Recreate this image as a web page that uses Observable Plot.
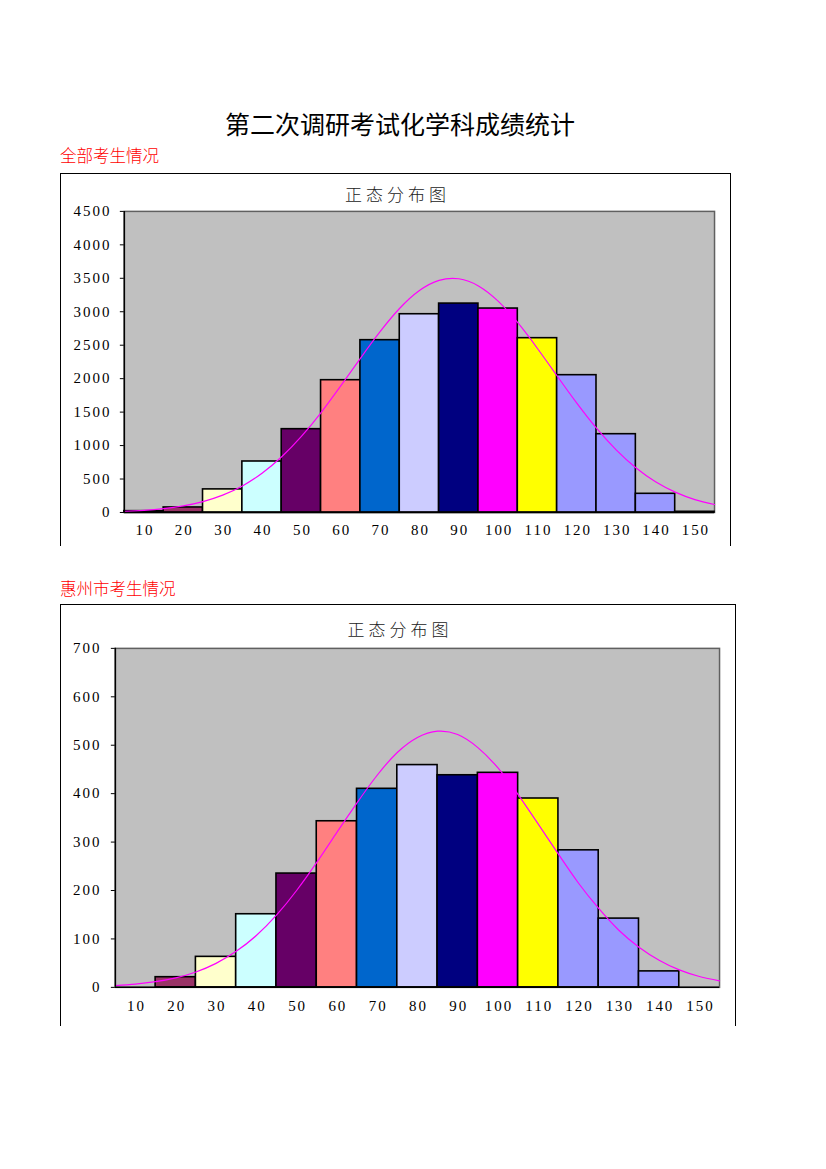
<!DOCTYPE html>
<html><head><meta charset="utf-8">
<script src="https://cdn.jsdelivr.net/npm/d3@7"></script>
<script src="https://cdn.jsdelivr.net/npm/@observablehq/plot@0.6"></script>
<style>
body{margin:0;background:#fff;}
#page{position:relative;width:826px;height:1169px;overflow:hidden;}
.title{position:absolute;left:0;width:800px;text-align:center;top:105px;font:25px "Noto Sans CJK SC";color:#000;}
.sub{position:absolute;left:60px;font:300 16.5px "Noto Sans CJK SC";color:#FF0000;}
.box{position:absolute;border:1px solid #000;border-bottom:none;box-sizing:border-box;}
.ctitle{position:absolute;left:4px;right:0;text-align:center;font:300 17px "Noto Sans CJK SC";letter-spacing:4px;color:#222;}
.box svg{position:absolute;left:0;top:0;}
.box svg text{letter-spacing:2px;}
</style></head>
<body><div id="page">
<div class="title">第二次调研考试化学科成绩统计</div>
<div class="sub" style="top:143px">全部考生情况</div>
<div class="box" id="b1" style="left:60px;top:173px;width:671px;height:373px"><div class="ctitle" style="top:7px">正态分布图</div></div>
<div class="sub" style="top:576px">惠州市考生情况</div>
<div class="box" id="b2" style="left:60px;top:604px;width:676px;height:422px"><div class="ctitle" style="top:11px">正态分布图</div></div>
</div>
<script>
const scores = [10,20,30,40,50,60,70,80,90,100,110,120,130,140,150];
const colors = ["#9999FF","#993366","#FFFFCC","#CCFFFF","#660066","#FF8080","#0066CC","#CCCCFF","#000080","#FF00FF","#FFFF00","#9999FF","#9999FF","#9999FF","#9999FF"];
const countsAll = [20,75,345,762,1245,1977,2575,2963,3122,3048,2605,2052,1170,279,10];
const countsHZ = [0,21,63,151,235,343,410,459,438,443,390,283,142,33,0];
const curveX = [5,10,15,20,25,30,35,40,45,50,55,60,65,70,75,80,85,90,95,100,105,110,115,120,125,130,135,140,145,150,155];
const curveAll = [17,32,57,99,163,259,397,586,832,1136,1494,1892,2304,2702,3052,3317,3469,3493,3386,3158,2836,2451,2040,1634,1259,935,668,459,304,193,119];
const curveHZ = [3.7,6.7,11.7,19.6,31.8,49.6,74.4,107,149,200,258,320,381,438,485,516,529,522,495,453,398,337,275,215,163,118,83,56,36,22.5,13.5];
const yTicksAll = [0,500,1000,1500,2000,2500,3000,3500,4000,4500];
const yTicksHZ = [0,100,200,300,400,500,600,700];

function chart(counts, curve, yTicks, w, h, m){
  const bars = scores.map((s,i)=>({s, c: counts[i], col: colors[i]}));
  const pts = curveX.map((x,i)=>({x, y: curve[i]}));
  return Plot.plot({
    width: w, height: h,
    marginLeft: m.l, marginRight: m.r, marginTop: m.t, marginBottom: m.b,
    style: {background:"transparent", fontFamily:"Liberation Serif", fontSize:"15px", color:"#000"},
    x: {domain:[5,155], label: null},
    y: {domain:[0, yTicks[yTicks.length-1]], label: null},
    marks: [
      Plot.frame({fill:"#C0C0C0", stroke:"#606060", strokeWidth:1.5}),
      Plot.rectY(bars, {x1: d=>d.s-5, x2: d=>d.s+5, y: "c", fill: "col", stroke:"#000", strokeWidth:1.6}),
      Plot.lineY(pts, {x:"x", y:"y", stroke:"#FF00FF", strokeWidth:1.2, curve:"natural"}),
      Plot.ruleX([5], {stroke:"#000", strokeWidth:1.5}),
      Plot.ruleY([0], {stroke:"#000", strokeWidth:1.5}),
      Plot.axisX({tickSize:0, tickPadding: m.xpad, ticks: scores, tickFormat: d=>String(d), fontSize:15, dx:1}),
      Plot.axisY({tickSize:4, tickPadding: m.ypad, ticks: yTicks, tickFormat: d=>String(d), fontSize:15})
    ]
  });
}
const c1 = chart(countsAll, curveAll, yTicksAll, 671, 373, {l:63, r:16, t:37, b:34, xpad:12, ypad:9});
document.getElementById("b1").appendChild(c1);
const c2 = chart(countsHZ, curveHZ, yTicksHZ, 676, 422, {l:54, r:16, t:43, b:39, xpad:13, ypad:10});
document.getElementById("b2").appendChild(c2);
</script>
</body></html>
